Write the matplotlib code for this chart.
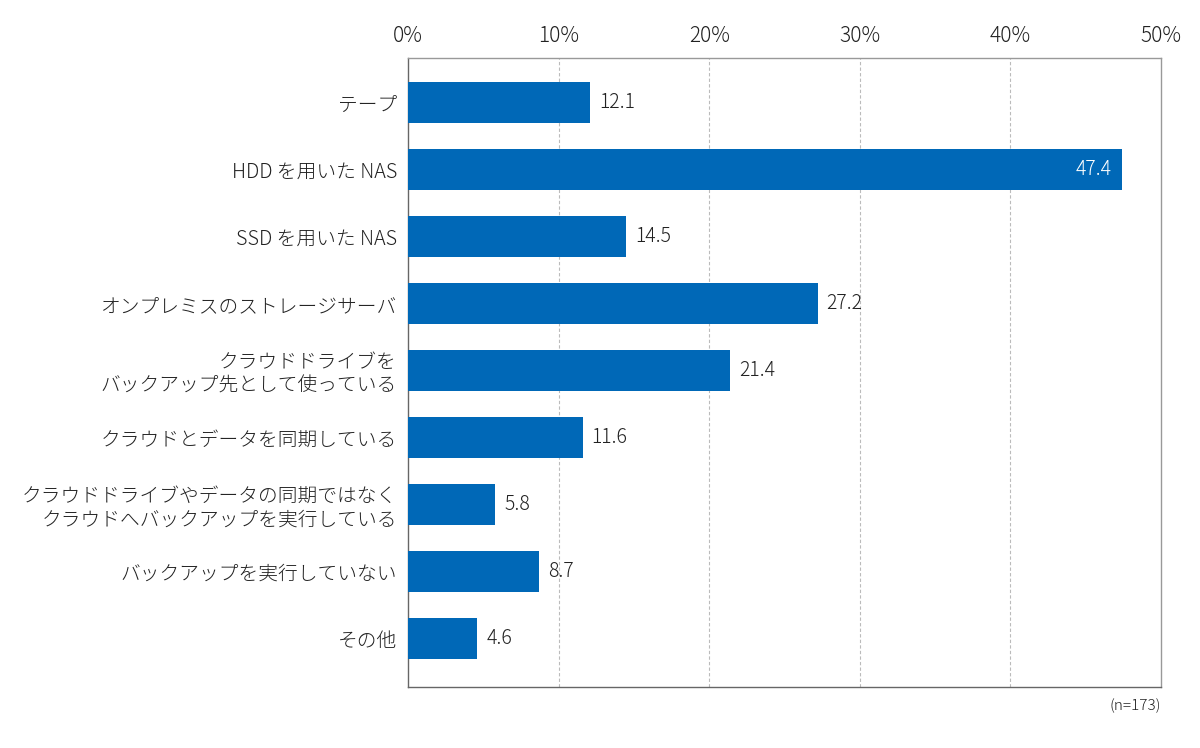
import numpy as np
import matplotlib
matplotlib.use('Agg')
import matplotlib.pyplot as plt

plt.rcParams['font.family'] = ['Noto Sans CJK JP', 'DejaVu Sans']

# Categories and values (%)
labels = ['テープ', 'HDD を用いた NAS', 'SSD を用いた NAS', 'オンプレミスのストレージサーバ',
          'クラウドドライブを\nバックアップ先として使っている', 'クラウドとデータを同期している',
          'クラウドドライブやデータの同期ではなく\nクラウドへバックアップを実行している',
          'バックアップを実行していない', 'その他']
values = [12.1, 47.4, 14.5, 27.2, 21.4, 11.6, 5.8, 8.7, 4.6]
xticks = [0, 10, 20, 30, 40, 50]

bar_color = '#0068b7'
text_color = '#222222'

fig = plt.figure(figsize=(12, 7.48), dpi=100)
ax = fig.add_axes([0.34, 0.0816, 0.6275, 0.8409])

y = np.arange(len(labels))
ax.barh(y, values, height=0.61, color=bar_color, zorder=3)

# Value labels
for yi, v in zip(y, values):
    if v > 40:
        ax.text(v - 0.7, yi, f'{v:.1f}', va='center', ha='right', color='white',
                fontsize=14, fontweight='light')
    else:
        ax.text(v + 0.6, yi, f'{v:.1f}', va='center', ha='left', color=text_color,
                fontsize=14, fontweight='light')

ax.set_xlim(0, 50)
ax.set_ylim(len(labels) - 1 + 0.72, -0.67)
ax.xaxis.tick_top()
ax.set_xticks(xticks)
ax.set_xticklabels([f'{t}%' for t in xticks], fontsize=15, color=text_color, fontweight='light')
ax.set_yticks(y)
ax.set_yticklabels(labels, fontsize=14.2, color=text_color, linespacing=1.15, fontweight='light')
ax.tick_params(axis='both', length=0, pad=8)

for t in xticks[1:-1]:
    ax.axvline(t, color='#bbbbbb', linestyle=(0, (3, 2)), linewidth=0.8, zorder=1)

ax.spines['top'].set_color('#999999')
ax.spines['right'].set_color('#999999')
ax.spines['left'].set_color('#666666')
ax.spines['bottom'].set_color('#666666')
for s in ax.spines.values():
    s.set_linewidth(1.0)

fig.text(0.9675, 0.056, '(n=173)', ha='right', va='center', fontsize=11, color=text_color,
         fontweight='light')

fig.savefig('out.png', dpi=100, facecolor='white')
